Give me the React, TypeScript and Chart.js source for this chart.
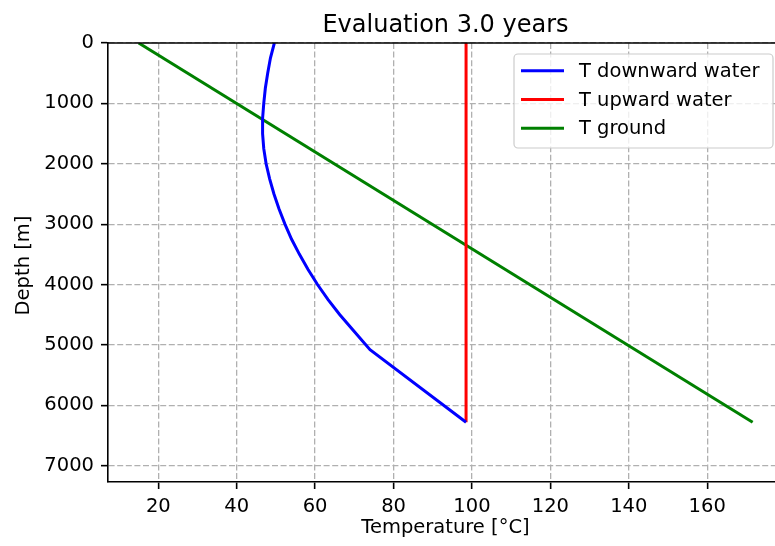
import React, { useEffect, useRef } from 'react';
import { Chart, registerables } from 'chart.js';

Chart.register(...registerables);

// ---- data ----
const titleText = 'Evaluation 3.0 years';
const xAxisLabel = 'Temperature [°C]';
const yAxisLabel = 'Depth [m]';
const seriesLabels = ['T downward water', 'T upward water', 'T ground'];
const seriesColors = ['#0000ff', '#ff0000', '#008000'];

const downDepths = [0, 250, 500, 750, 1000, 1250, 1500, 1750, 2000, 2250, 2500, 2750, 3000, 3250, 3500, 3750, 4000, 4250, 4500, 4750, 5080, 6280];
const downTemps = [49.6, 48.6, 47.9, 47.3, 46.9, 46.6, 46.6, 46.9, 47.5, 48.4, 49.5, 50.8, 52.3, 54.0, 56.0, 58.2, 60.6, 63.3, 66.3, 69.6, 74.0, 98.5];

const upDepths = [0, 6280];
const upTemps = [98.5, 98.5];

const groundDepths = [0, 6280];
const groundTemps = [15, 171.6];

const xTicks = [20, 40, 60, 80, 100, 120, 140, 160];
const yTicks = [0, 1000, 2000, 3000, 4000, 5000, 6000, 7000];

const X_MIN = 7.17;
const X_MAX = 177.3;
const Y_MIN = 0;
const Y_MAX = 7270;

const FONT = '"DejaVu Sans", "Liberation Sans", sans-serif';

function pts(xs: number[], ys: number[]) {
  return xs.map((x, i) => ({ x, y: ys[i] }));
}

const overlayPlugin = {
  id: 'overlay',
  afterDatasetsDraw(chart: any) {
    const ctx = chart.ctx;
    const a = chart.chartArea;
    ctx.save();
    // top spine
    ctx.strokeStyle = '#000';
    ctx.lineWidth = 1.6;
    ctx.beginPath();
    ctx.moveTo(a.left, a.top);
    ctx.lineTo(a.right, a.top);
    ctx.stroke();
    ctx.restore();
  },
  afterDraw(chart: any) {
    const ctx = chart.ctx;
    const a = chart.chartArea;
    const centerX = 445.5;
    ctx.save();
    ctx.fillStyle = '#000';
    // title
    ctx.font = `24px ${FONT}`;
    ctx.textAlign = 'center';
    ctx.textBaseline = 'alphabetic';
    ctx.fillText(titleText, centerX, 32);
    // x label
    ctx.font = `19.5px ${FONT}`;
    ctx.textBaseline = 'middle';
    ctx.fillText(xAxisLabel, centerX, 528);
    // y label
    ctx.save();
    ctx.translate(24, (a.top + a.bottom) / 2 + 3);
    ctx.rotate(-Math.PI / 2);
    ctx.textAlign = 'center';
    ctx.textBaseline = 'middle';
    ctx.fillText(yAxisLabel, 0, 0);
    ctx.restore();

    // legend
    const bx = 514, by = 54, bw = 259, bh = 94, r = 4;
    ctx.beginPath();
    ctx.roundRect(bx, by, bw, bh, r);
    ctx.fillStyle = 'rgba(255,255,255,0.8)';
    ctx.fill();
    ctx.strokeStyle = 'rgba(204,204,204,1)';
    ctx.lineWidth = 1.2;
    ctx.stroke();
    const rows = [70.7, 99.5, 128.3];
    chart.data.datasets.forEach((ds: any, i: number) => {
      const y = rows[i];
      ctx.strokeStyle = ds.borderColor;
      ctx.lineWidth = 3;
      ctx.beginPath();
      ctx.moveTo(521, y);
      ctx.lineTo(564, y);
      ctx.stroke();
      ctx.fillStyle = '#000';
      ctx.font = `19.5px ${FONT}`;
      ctx.textAlign = 'left';
      ctx.textBaseline = 'middle';
      ctx.fillText(ds.label, 579, y + 1);
    });
    ctx.restore();
  },
};

export default function App() {
  const canvasRef = useRef<HTMLCanvasElement | null>(null);

  useEffect(() => {
    document.body.style.margin = '0';
    const canvas = canvasRef.current;
    if (!canvas) return;
    const mk = (i: number, xs: number[], ys: number[]) => ({
      label: seriesLabels[i],
      data: pts(xs, ys),
      borderColor: seriesColors[i],
      backgroundColor: seriesColors[i],
      borderWidth: 3,
      showLine: true,
      pointRadius: 0,
      fill: false,
      tension: 0,
    });
    const chart = new Chart(canvas, {
      type: 'scatter',
      data: {
        datasets: [
          mk(0, downTemps, downDepths),
          mk(1, upTemps, upDepths),
          mk(2, groundTemps, groundDepths),
        ],
      },
      plugins: [overlayPlugin],
      options: {
        responsive: false,
        animation: false,
        layout: { padding: { top: 43, left: 0, right: 0, bottom: 0 } },
        plugins: {
          legend: { display: false },
          title: { display: false },
          tooltip: { enabled: false },
        },
        scales: {
          x: {
            type: 'linear',
            min: X_MIN,
            max: X_MAX,
            afterBuildTicks: (s: any) => {
              s.ticks = xTicks.map((v) => ({ value: v }));
            },
            afterFit: (s: any) => {
              s.height = 64;
            },
            grid: {
              color: '#b0b0b0',
              lineWidth: 1.3,
              tickLength: 7,
              tickColor: '#000',
              tickWidth: 1.6,
              tickBorderDash: [],
            },
            border: { display: true, color: '#000', width: 1.6, dash: [6, 2.6] },
            ticks: {
              color: '#000',
              padding: 6,
              maxRotation: 0,
              autoSkip: false,
              font: { family: FONT, size: 19.5 },
              callback: (v: any) => String(v),
            },
          },
          y: {
            type: 'linear',
            reverse: true,
            min: Y_MIN,
            max: Y_MAX,
            afterBuildTicks: (s: any) => {
              s.ticks = yTicks.map((v) => ({ value: v }));
            },
            afterFit: (s: any) => {
              s.width = 108;
            },
            grid: {
              color: '#b0b0b0',
              lineWidth: 1.3,
              tickLength: 7,
              tickColor: '#000',
              tickWidth: 1.6,
              tickBorderDash: [],
            },
            border: { display: true, color: '#000', width: 1.6, dash: [6, 2.6] },
            ticks: {
              color: '#000',
              padding: 7,
              autoSkip: false,
              font: { family: FONT, size: 19.5 },
              callback: (v: any) => String(v),
            },
          },
        },
      },
    } as any);
    return () => chart.destroy();
  }, []);

  return (
    <div style={{ width: 775, height: 546, background: '#fff' }}>
      <canvas ref={canvasRef} width={775} height={546} style={{ display: 'block' }} />
    </div>
  );
}
